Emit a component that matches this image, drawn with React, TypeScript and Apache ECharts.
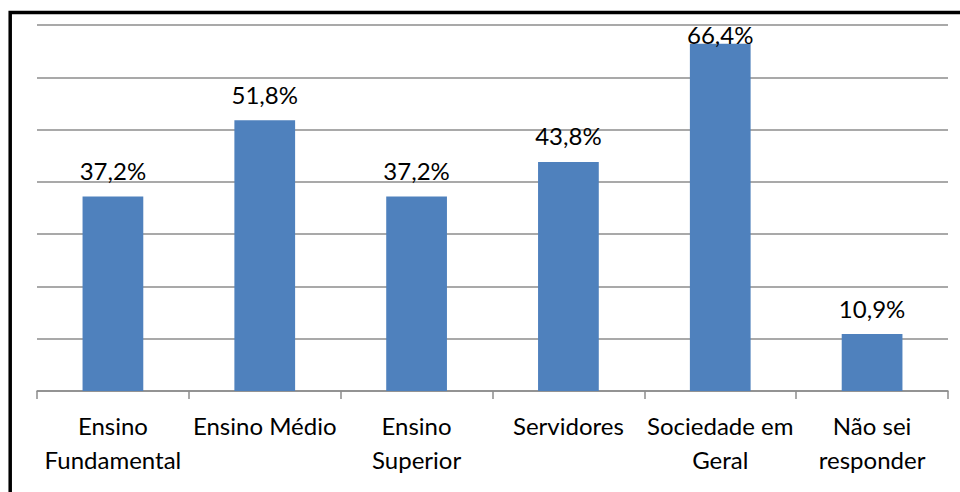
import React, { useEffect, useRef } from "react";
import * as echarts from "echarts";

const categories = [
  "Ensino\nFundamental",
  "Ensino Médio",
  "Ensino\nSuperior",
  "Servidores",
  "Sociedade em\nGeral",
  "Não sei\nresponder",
];
const values = [37.2, 51.8, 37.2, 43.8, 66.4, 10.9];
const yMin = 0;
const yMax = 70;
const yInterval = 10;

const FONT = "Lato, 'Open Sans', sans-serif";

export default function App() {
  const ref = useRef<HTMLDivElement>(null);
  useEffect(() => {
    if (!ref.current) return;
    const chart = echarts.init(ref.current, null, { renderer: "svg" });
    chart.setOption({
      animation: false,
      backgroundColor: "#ffffff",
      textStyle: { fontFamily: FONT },
      grid: { left: 37, right: 12, top: 25, bottom: 101, containLabel: false },
      xAxis: {
        type: "category",
        data: categories,
        boundaryGap: true,
        axisLine: { show: true, lineStyle: { color: "#8c8c8c", width: 1.5 } },
        axisTick: { show: true, alignWithLabel: false, length: 8, lineStyle: { color: "#8c8c8c", width: 1.5 } },
        axisLabel: {
          interval: 0,
          margin: 17,
          color: "#000000",
          fontFamily: FONT,
          fontSize: 24,
          lineHeight: 34,
          align: "center",
        },
      },
      yAxis: {
        type: "value",
        min: yMin,
        max: yMax,
        interval: yInterval,
        axisLine: { show: false },
        axisTick: { show: false },
        axisLabel: { show: false },
        splitLine: { show: true, lineStyle: { color: "#8c8c8c", width: 1.5 } },
      },
      series: [
        {
          type: "bar",
          barWidth: "40%",
          itemStyle: { color: "#4f81bd" },
          data: values.map((v) => ({
            value: v,
            label: { distance: v > 60 ? -3 : 14 },
          })),
          label: {
            show: true,
            position: "top",
            color: "#000000",
            fontFamily: FONT,
            fontSize: 24,
            formatter: (p: any) => p.value.toFixed(1).replace(".", ",") + "%",
          },
        },
      ],
      graphic: [
        {
          type: "rect",
          shape: { x: 10.2, y: 12.5, width: 1000, height: 600 },
          style: { fill: "none", stroke: "#000000", lineWidth: 3.5 },
          silent: true,
        },
      ],
    });
    return () => chart.dispose();
  }, []);
  return (
    <div style={{ position: "fixed", left: 0, top: 0, width: 960, height: 492, overflow: "hidden", background: "#fff" }}>
      <div ref={ref} style={{ width: 960, height: 492 }} />
    </div>
  );
}
